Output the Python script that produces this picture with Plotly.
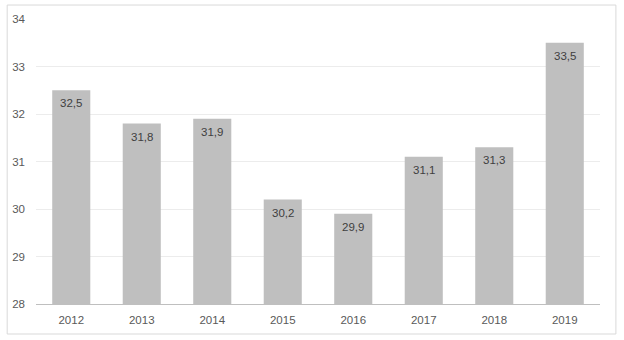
import plotly.graph_objects as go

years = ["2012", "2013", "2014", "2015", "2016", "2017", "2018", "2019"]
values = [32.5, 31.8, 31.9, 30.2, 29.9, 31.1, 31.3, 33.5]
y_ticks = [28, 29, 30, 31, 32, 33, 34]

fig = go.Figure()
fig.add_trace(go.Bar(
    x=years, y=values, base=0,
    marker=dict(color="#bfbfbf", line=dict(width=0)),
    hoverinfo="x+y",
))

# value labels placed at each category index, just inside the top of the bar
for i, v in enumerate(values):
    fig.add_annotation(
        x=i, y=v, xref="x", yref="y",
        text=f"{v:.1f}".replace(".", ","),
        showarrow=False, yanchor="middle", yshift=-13,
        font=dict(color="#404040", size=11.5, family="Liberation Sans"),
    )

fig.update_layout(
    width=624, height=340,
    margin=dict(l=32, r=24, t=19, b=36),
    paper_bgcolor="white", plot_bgcolor="white",
    separators=", ",
    bargap=0.46,
    showlegend=False,
    font=dict(family="Liberation Sans", size=11.5, color="#595959"),
    xaxis=dict(type="category", range=[-0.5, len(years) - 0.5], showgrid=False,
               showline=True, linecolor="#bfbfbf", linewidth=1, ticks="",
               ticklabelstandoff=5, fixedrange=True),
    yaxis=dict(range=[28, 34], tickvals=y_ticks, showgrid=True, gridcolor="#ececec",
               gridwidth=1, zeroline=False, showline=False, ticks="",
               ticklabelstandoff=10, fixedrange=True),
    shapes=[dict(type="rect", xref="paper", yref="paper",
                 x0=-0.0511, x1=1.0282, y0=-0.1053, y1=1.049,
                 line=dict(color="#d9d9d9", width=1), fillcolor="rgba(0,0,0,0)",
                 layer="below")],
)

fig.write_html("out.html", config={"displayModeBar": False},
               post_script="document.body.style.margin='0';document.body.style.padding='0';")
